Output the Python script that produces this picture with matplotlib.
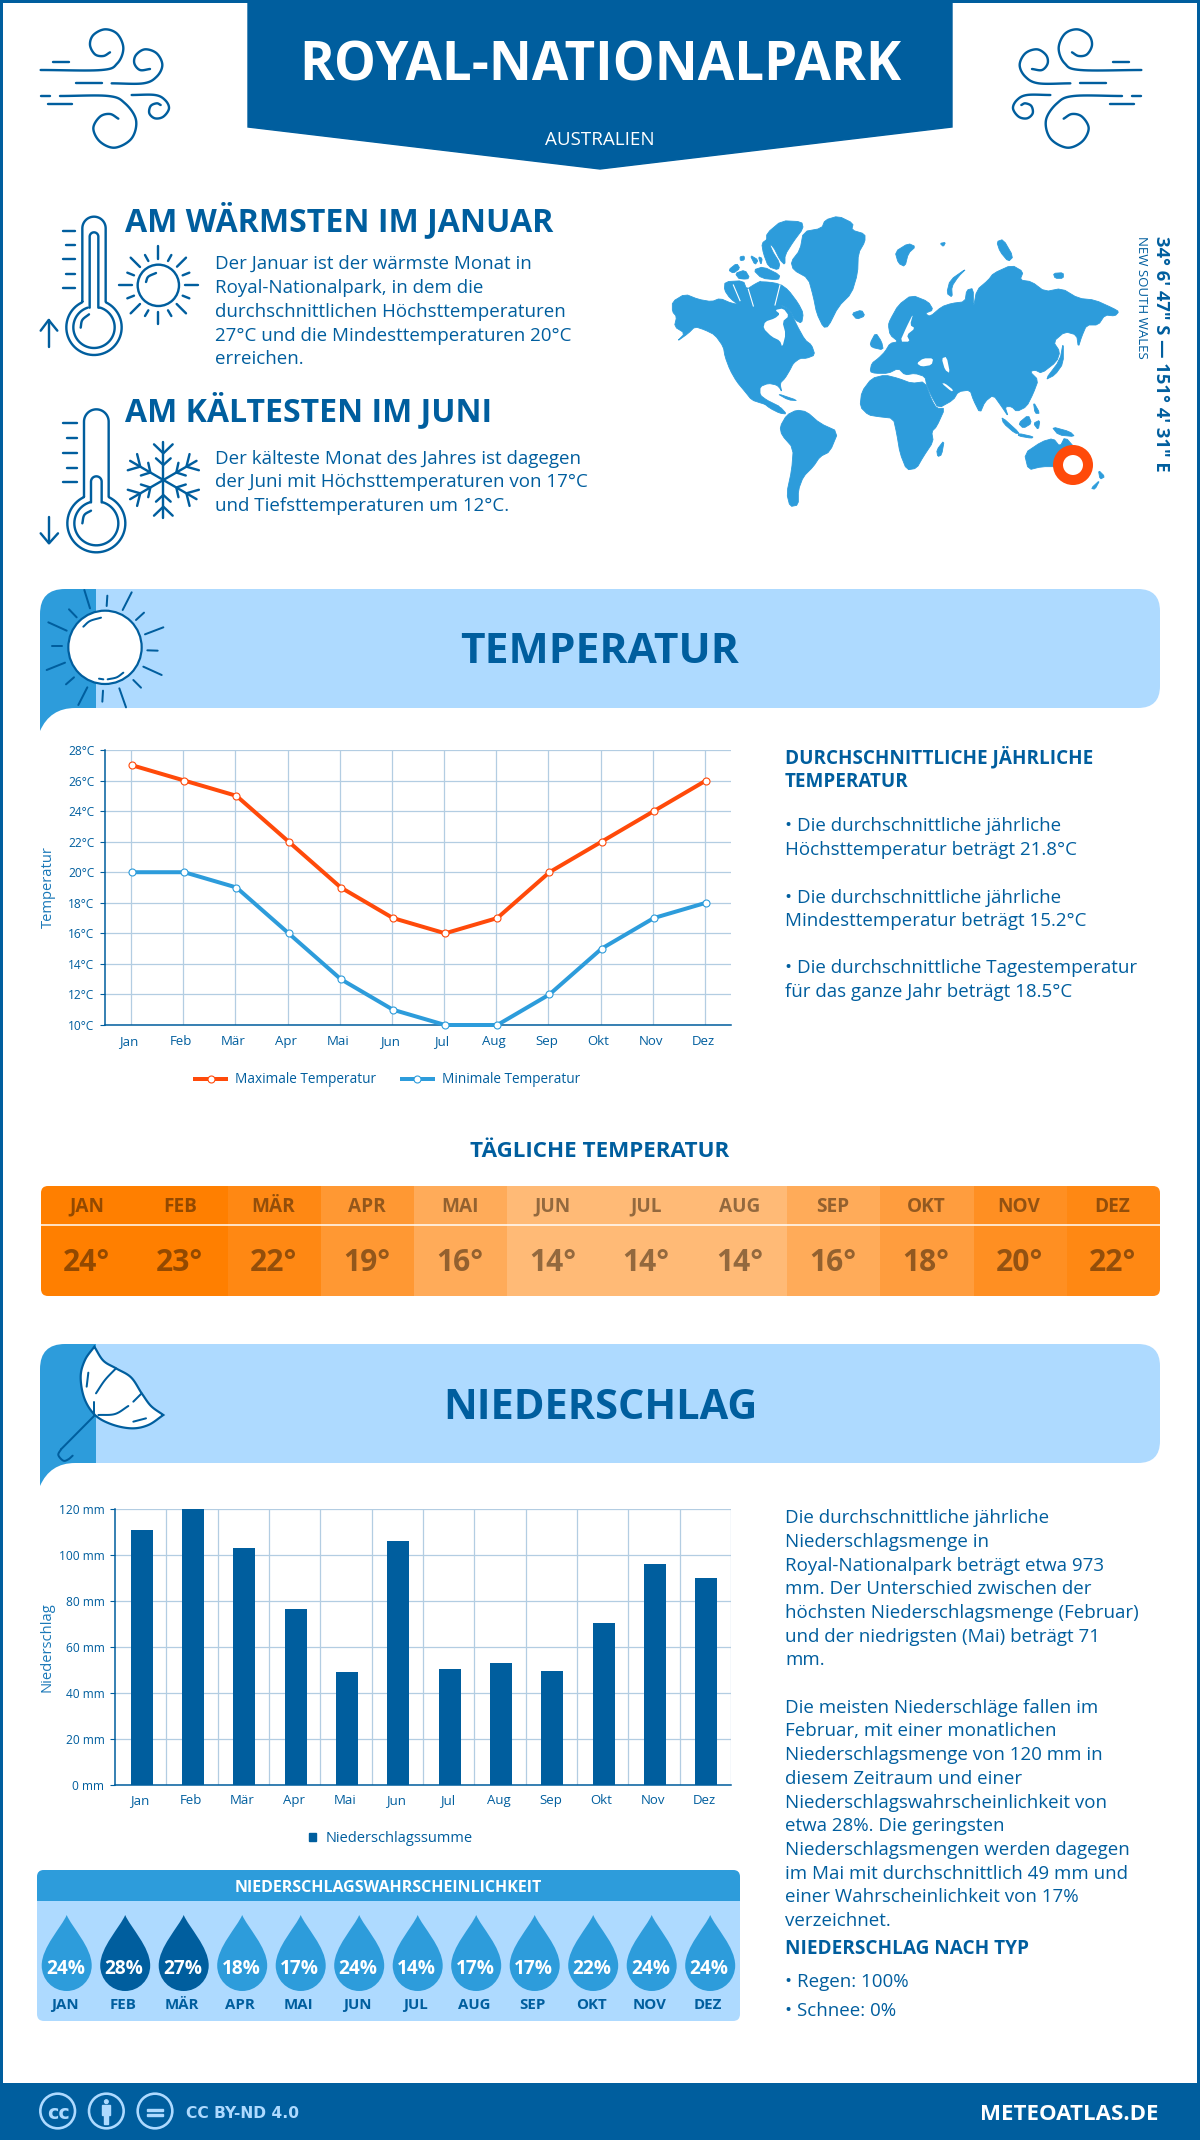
import numpy as np
import matplotlib
matplotlib.use("Agg")
import matplotlib.pyplot as plt
from matplotlib.path import Path
from matplotlib.patches import PathPatch, Rectangle, Circle, FancyBboxPatch, Patch
from matplotlib.transforms import ScaledTranslation

# ---------- data ----------
months = ["Jan", "Feb", "Mär", "Apr", "Mai", "Jun", "Jul", "Aug", "Sep", "Okt", "Nov", "Dez"]
months_upper = ["JAN", "FEB", "MÄR", "APR", "MAI", "JUN", "JUL", "AUG", "SEP", "OKT", "NOV", "DEZ"]
temp_max = [27, 26, 25, 22, 19, 17, 16, 17, 20, 22, 24, 26]
temp_min = [20, 20, 19, 16, 13, 11, 10, 10, 12, 15, 17, 18]
temp_ticks = [10, 12, 14, 16, 18, 20, 22, 24, 26, 28]
daily_temp = [24, 23, 22, 19, 16, 14, 14, 14, 16, 18, 20, 22]
precip = [111, 120, 103, 76.5, 49, 106, 50.5, 53, 49.5, 70.5, 96, 90]
precip_ticks = [0, 20, 40, 60, 80, 100, 120]
precip_prob = [24, 28, 27, 18, 17, 24, 14, 17, 17, 22, 24, 24]

text_warm = ["Der Januar ist der wärmste Monat in", "Royal-Nationalpark, in dem die",
             "durchschnittlichen Höchsttemperaturen", "27°C und die Mindesttemperaturen 20°C", "erreichen."]
text_cold = ["Der kälteste Monat des Jahres ist dagegen", "der Juni mit Höchsttemperaturen von 17°C",
             "und Tiefsttemperaturen um 12°C."]
text_temp = ["• Die durchschnittliche jährliche", "Höchsttemperatur beträgt 21.8°C", None,
             "• Die durchschnittliche jährliche", "Mindesttemperatur beträgt 15.2°C", None,
             "• Die durchschnittliche Tagestemperatur", "für das ganze Jahr beträgt 18.5°C"]
text_prec_1 = ["Die durchschnittliche jährliche", "Niederschlagsmenge in", "Royal-Nationalpark beträgt etwa 973",
               "mm. Der Unterschied zwischen der", "höchsten Niederschlagsmenge (Februar)",
               "und der niedrigsten (Mai) beträgt 71", "mm."]
text_prec_2 = ["Die meisten Niederschläge fallen im", "Februar, mit einer monatlichen",
               "Niederschlagsmenge von 120 mm in", "diesem Zeitraum und einer",
               "Niederschlagswahrscheinlichkeit von", "etwa 28%. Die geringsten",
               "Niederschlagsmengen werden dagegen", "im Mai mit durchschnittlich 49 mm und",
               "einer Wahrscheinlichkeit von 17%", "verzeichnet."]

# ---------- style ----------
BLUE = "#005E9E"
MID = "#2D9CDB"
LIGHT = "#AEDAFF"
ORANGE = "#FF4A0A"
GRID = "#B3CDE2"
AXLAB = "#1A78B8"
FONT = "Open Sans"
BODY = 18.8
W, H = 1200, 2140
daily_colors = ["#FF7F00", "#FF7F00", "#FF8813", "#FF9833", "#FFAB59", "#FFBA76",
                "#FFBA76", "#FFBA76", "#FFAB59", "#FF9D3E", "#FF8F22", "#FF8813"]

fig = plt.figure(figsize=(W / 100, H / 100), dpi=100, facecolor="white")
ov = fig.add_axes([0, 0, 1, 1], zorder=0)
ov.set_xlim(0, W)
ov.set_ylim(H, 0)
ov.axis("off")
renderer = fig.canvas.get_renderer()


def T(x, y, s, px, color=BLUE, weight="normal", ha="left", w=None, rot=0, alpha=None, family=FONT, z=6):
    """Text whose y is the centre of the capitals, in pixels."""
    yy = y + 0.357 * px if rot == 0 else y
    t = ov.text(x, yy, s, fontsize=px * 0.72, color=color, fontweight=weight, ha=ha, va="baseline",
                family=family, rotation=rot, rotation_mode="anchor", alpha=alpha, zorder=z)
    if w:
        e = t.get_window_extent(renderer)
        length = e.height if rot else e.width
        k = w / length
        t.set_fontsize(t.get_fontsize() * k)
        if rot == 0:
            t.set_y(y + 0.357 * px * k)
    return t


def smooth(pts, n=12):
    p = np.array(pts, float)
    p = np.vstack([2 * p[0] - p[1], p, 2 * p[-1] - p[-2]])
    out = []
    for i in range(1, len(p) - 2):
        for u in np.linspace(0, 1, n, endpoint=False):
            out.append(0.5 * ((2 * p[i]) + (-p[i - 1] + p[i + 1]) * u +
                              (2 * p[i - 1] - 5 * p[i] + 4 * p[i + 1] - p[i + 2]) * u ** 2 +
                              (-p[i - 1] + 3 * p[i] - 3 * p[i + 1] + p[i + 2]) * u ** 3))
    out.append(p[-2])
    return np.array(out)


def icon_line(pts, ox, oy, k=1 / 3, mirror=None, color=BLUE, lw=2.4, z=5, curve=False):
    p = smooth(pts) if curve else np.array(pts, float)
    x = ox + p[:, 0] * k
    y = oy + p[:, 1] * k
    if mirror is not None:
        x = mirror - x
    ov.plot(x, y, color=color, lw=lw * 0.72, solid_capstyle="round", solid_joinstyle="round", zorder=z)


def icon_circle(cx, cy, r, ox, oy, k=1 / 3, color=BLUE, lw=2.4, fc="none", z=5):
    ov.add_patch(Circle((ox + cx * k, oy + cy * k), r * k, fc=fc, ec=color, lw=lw * 0.72, zorder=z))


def arc(cx, cy, r, a0, a1, n=30):
    a = np.radians(np.linspace(a0, a1, n))
    return np.column_stack([cx + r * np.cos(a), cy - r * np.sin(a)])


# ---------- frame and header ----------
ov.add_patch(Rectangle((0, 0), W, H, fc="none", ec=BLUE, lw=6 * 0.72, zorder=1))
ov.add_patch(Rectangle((0, 2083), W, 57, fc=BLUE, ec="none", zorder=1))
ov.fill([248, 952, 952, 600, 248], [0, 0, 127, 169, 127], color=BLUE, zorder=2)
T(600, 62, "ROYAL-NATIONALPARK", 51, color="white", weight="bold", ha="center", w=603)
T(600, 138, "AUSTRALIEN", 18, color="white", ha="center", w=109)

wind_curves = [
    [(32, 150), (215, 150), (262, 130), (280, 85), (262, 42), (225, 28), (190, 45), (180, 75), (195, 103), (220, 108), (240, 97)],
    [(245, 190), (340, 190), (380, 170), (397, 135), (380, 100), (345, 88), (318, 105), (313, 130), (330, 150), (360, 147)],
    [(90, 228), (235, 228), (285, 250), (318, 300), (305, 355), (255, 383), (210, 365), (190, 325), (210, 290), (240, 282), (265, 296)],
    [(305, 225), (375, 225), (405, 240), (417, 265), (400, 290), (375, 295), (358, 280), (362, 258), (380, 250), (392, 255)],
]
wind_dashes = [[(68, 125), (118, 125)], [(138, 190), (215, 190)], [(32, 228), (60, 228)], [(55, 252), (125, 252)]]
for m in (None, 1182):
    for c in wind_curves:
        icon_line(c, 30, 20, mirror=m, curve=True)
    for d in wind_dashes:
        icon_line(d, 30, 20, mirror=m)

# ---------- warm / cold ----------
T(125, 220, "AM WÄRMSTEN IM JANUAR", 31, weight="bold", w=428)
for i, s in enumerate(text_warm):
    T(215, 262.5 + i * 23.8, s, BODY)
T(125, 410, "AM KÄLTESTEN IM JUNI", 31, weight="bold", w=366)
for i, s in enumerate(text_cold):
    T(215, 457 + i * 23.6, s, BODY)


def thermo(ox, oy, cx, cap_y, cap_r, neck_y, inner_top, inner_r, bulb_y, bulb_r, bulb_in, hl, ticks, arrow):
    outer = np.vstack([[(cx - cap_r, neck_y)], arc(cx, cap_y, cap_r, 180, 0), [(cx + cap_r, neck_y)],
                       arc(cx, bulb_y, bulb_r, 64, -244, 60), [(cx - cap_r, neck_y)]])
    icon_line(outer, ox, oy)
    inner = np.vstack([[(cx - inner_r, bulb_y - bulb_in * 0.95)], [(cx - inner_r, inner_top)],
                       arc(cx, inner_top, inner_r, 180, 0), [(cx + inner_r, bulb_y - bulb_in * 0.95)],
                       arc(cx, bulb_y, bulb_in, 72, -252, 60)])
    icon_line(inner, ox, oy)
    icon_line(hl, ox, oy, curve=True)
    for tk in ticks:
        icon_line(tk, ox, oy)
    for a in arrow:
        icon_line(a, ox, oy)


thermo(30, 205, 192, 70, 35, 290, 95, 13, 367, 83, 62, [(152, 368), (157, 345), (177, 328)],
       [[(98, 78), (135, 78)], [(108, 121), (135, 121)], [(98, 163), (135, 163)], [(108, 206), (135, 206)], [(98, 248), (135, 248)]],
       [[(56, 425), (56, 345)], [(32, 377), (56, 345), (82, 377)]])
thermo(30, 205, 199, 650, 37, 875, 830, 16, 955, 87, 66, [(157, 955), (163, 930), (183, 917)],
       [[(100, 655), (140, 655)], [(110, 699), (140, 699)], [(100, 743), (140, 743)], [(110, 788), (140, 788)], [(100, 832), (140, 832)]],
       [[(57, 935), (57, 1015)], [(32, 985), (57, 1015), (84, 985)]])

icon_circle(385, 241, 62, 30, 205)
sun_rays = [[(385, 123), (385, 163)], [(385, 320), (385, 358)], [(267, 241), (305, 241)], [(465, 241), (503, 241)],
            [(441, 185), (468, 158)], [(330, 186), (302, 158)], [(440, 297), (468, 325)], [(330, 297), (302, 325)],
            [(345, 150), (355, 168)], [(424, 150), (414, 168)], [(292, 203), (312, 211)], [(478, 203), (458, 211)],
            [(292, 280), (312, 272)], [(478, 280), (458, 272)], [(355, 316), (345, 333)], [(414, 316), (424, 333)]]
for r in sun_rays:
    icon_line(r, 30, 205)
icon_line([(348, 231), (355, 215), (378, 204)], 30, 205, curve=True)

for deg in range(30, 360, 60):
    a = np.radians(deg)
    u = np.array([np.cos(a), -np.sin(a)])
    v = np.array([-u[1], u[0]])
    c = np.array([400, 825])
    icon_line([c, c + u * 115], 30, 205)
    icon_line([c + u * 107 + v * 28, c + u * 80, c + u * 107 - v * 28], 30, 205)
    icon_line([c + u * 65 + v * 22, c + u * 45, c + u * 65 - v * 22], 30, 205)

# ---------- world map (decorative) ----------
land = [
    # North America
    [(22,275),(60,252),(100,268),(140,275),(165,265),(200,280),(235,285),(270,285),(310,285),(345,285),(375,300),(395,345),(420,390),(440,405),(450,435),(425,445),(405,445),(385,460),(375,480),(360,505),(345,520),(350,545),(345,535),(335,525),(310,520),(285,530),(285,555),(305,570),(325,580),(345,590),(345,605),(325,590),(290,580),(260,570),(240,545),(215,515),(195,480),(180,440),(175,410),(150,375),(120,360),(90,350),(70,370),(35,395),(60,370),(28,350),(35,320),(22,305)],
    [(290,575),(345,590),(365,612),(345,610),(315,595)],
    # Arctic archipelago
    [(305,70),(350,32),(410,35),(415,55),(385,95),(360,135),(360,165),(345,150),(325,110),(305,95)],
    [(290,100),(310,85),(320,120),(345,160),(340,180),(310,170),(295,130)],
    [(190,180),(215,160),(225,175),(205,190)],
    [(210,190),(240,180),(255,205),(225,210)],
    [(225,140),(238,138),(238,150),(226,152)],
    [(255,135),(280,150),(270,165)],
    [(280,140),(292,145),(288,165)],
    [(265,180),(295,170),(345,195),(340,210),(290,205)],
    [(180,215),(235,212),(245,238),(270,222),(290,212),(345,222),(370,240),(400,280),(415,310),(410,340),(390,330),(375,300),(350,285),(325,290),(300,295),(270,290),(230,292),(195,265),(178,240)],
    # Greenland, Iceland, Svalbard etc
    [(415,65),(470,55),(480,30),(520,18),(565,40),(560,60),(600,72),(600,95),(580,130),(578,190),(560,250),(520,290),(490,350),(475,352),(455,310),(445,260),(430,205),(385,180),(378,155),(405,120)],
    [(560,310),(590,300),(600,318),(575,328)],
    [(690,125),(730,100),(752,110),(730,130),(720,170),(700,160)],
    [(825,100),(842,97),(835,110)],
    [(845,250),(855,210),(905,175),(880,200),(860,230),(862,262)],
    [(995,95),(1015,88),(1045,140),(1030,155),(1005,125)],
    [(1165,190),(1195,188),(1195,205),(1170,205)],
    # Eurasia
    [(675,330),(700,285),(740,255),(790,275),(805,300),(780,310),(795,320),(830,290),(860,280),(900,275),(905,240),(925,235),(925,295),(935,240),(970,210),(985,190),(1040,165),(1075,185),(1065,210),(1100,215),(1140,245),(1190,235),(1240,265),(1290,270),(1345,295),(1362,305),(1350,318),(1320,315),(1300,345),(1265,345),(1250,380),(1240,412),(1235,375),(1200,365),(1165,395),(1185,425),(1175,455),(1130,490),(1110,480),(1095,485),(1120,510),(1105,550),(1085,590),(1055,605),(1040,590),(1020,590),(1030,620),(1010,590),(985,555),(960,575),(945,610),(925,570),(915,540),(880,545),(865,570),(820,595),(800,560),(785,525),(780,500),(750,490),(720,495),(700,475),(670,490),(630,490),(615,485),(620,460),(640,445),(660,425),(675,400),(700,395),(675,375),(670,345)],
    [(615,400),(632,368),(650,395),(655,420),(620,412)],
    # Africa, Madagascar, South America
    [(590,545),(620,505),(660,495),(700,505),(740,520),(780,515),(800,570),(815,595),(840,595),(815,650),(800,665),(805,695),(775,740),(755,775),(725,780),(705,730),(695,670),(685,625),(640,620),(610,615),(585,590)],
    [(815,720),(838,690),(830,735),(818,740)],
    [(345,650),(365,615),(395,600),(425,605),(465,640),(520,665),(495,725),(465,740),(445,770),(415,800),(400,840),(400,885),(375,890),(365,850),(380,780),(385,715),(350,675)],
    [(335,550),(400,572),(370,570)],
    # South-east Asia, Oceania
    [(1010,620),(1065,670),(1050,670),(1015,640)],
    [(1060,670),(1105,680),(1100,685),(1060,678)],
    [(1060,640),(1090,615),(1100,640),(1075,655)],
    [(1105,640),(1125,630),(1120,660)],
    [(1160,650),(1215,665),(1230,680),(1180,675)],
    [(1105,575),(1125,610),(1110,610)],
    [(1140,510),(1185,450),(1195,395),(1195,460),(1170,495)],
    [(1078,730),(1130,695),(1165,685),(1185,710),(1200,680),(1235,720),(1270,750),(1270,790),(1240,815),(1180,770),(1130,770),(1090,780)],
    [(1300,780),(1320,800),(1305,808)],
    [(1278,835),(1305,810),(1290,838)],
]
water = [
    # Hudson Bay and Foxe Basin
    [(300,335),(330,325),(345,312),(330,300),(355,295),(372,318),(352,335),(362,372),(352,412),(345,392),(320,380),(295,355)],
    # inner seas
    [(755,460),(775,445),(805,445),(800,465),(770,470)],
    [(830,445),(845,440),(855,490),(840,480)],
    [(705,395),(725,350),(745,310),(735,345),(750,355),(725,375),(735,395)],
    [(830,520),(860,545),(865,540),(840,520)],
]
channels = [[(205,225),(225,272)], [(250,238),(265,288)], [(345,225),(330,285)],
            [(195,205),(250,212)], [(290,212),(345,215)]]


def chaikin(poly):
    p = np.array(poly, float)
    q = np.roll(p, -1, axis=0)
    return np.vstack(np.column_stack([0.8 * p + 0.2 * q, 0.2 * p + 0.8 * q]).reshape(-1, 2))


for poly in land:
    p = chaikin(poly)
    ov.fill(665 + p[:, 0] / 3, 210 + p[:, 1] / 3, color=MID, lw=0.6, zorder=3)
for poly in water:
    p = chaikin(poly)
    ov.fill(665 + p[:, 0] / 3, 210 + p[:, 1] / 3, color="white", lw=0, zorder=3.5)
for ch in channels:
    p = np.array(ch, float)
    ov.plot(665 + p[:, 0] / 3, 210 + p[:, 1] / 3, color="white", lw=0.8, zorder=3.5)
ov.add_patch(Circle((1073, 465), 15, fc="white", ec=ORANGE, lw=10 * 0.72, zorder=4))

T(1156, 236, "34° 6' 47\" S — 151° 4' 31\" E", 20, weight="bold", rot=-90, w=236)
T(1138, 236, "NEW SOUTH WALES", 13, rot=-90, w=123)


# ---------- section banners ----------
def banner(top, bot, tail):
    M, L, Q = Path.MOVETO, Path.LINETO, Path.CURVE3
    v = [(96, top), (1138, top), (1160, top), (1160, top + 22), (1160, bot - 22), (1160, bot), (1138, bot), (96, bot), (96, top)]
    c = [M, L, Q, Q, L, Q, Q, L, L]
    ov.add_patch(PathPatch(Path(v, c), fc=LIGHT, ec="none", zorder=2))
    v = [(40, tail), (40, top + 25), (40, top), (65, top), (96, top), (96, bot), (75, bot), (50, bot), (40, tail)]
    c = [M, L, Q, Q, L, L, L, Q, Q]
    ov.add_patch(PathPatch(Path(v, c), fc=MID, ec="none", zorder=2))


banner(589, 708, 731)
banner(1344, 1463, 1486)
T(600, 648, "TEMPERATUR", 43, weight="bold", ha="center", w=278)
T(600, 1404, "NIEDERSCHLAG", 43, weight="bold", ha="center", w=315)

# banner sun
icon_circle(210, 187, 110, 35, 585, fc="white", lw=2.2)
for r in [[(148,15),(165,70)],[(102,73),(125,97)],[(40,112),(95,137)],[(50,184),(82,184)],[(35,255),(90,233)],
          [(93,298),(117,277)],[(130,360),(157,307)],[(204,317),(202,350)],[(253,310),(273,367)],[(295,285),(318,308)],
          [(325,245),(380,270)],[(337,196),(368,197)],[(330,148),(385,127)],[(303,105),(327,83)],[(263,75),(290,22)],[(217,32),(215,63)],
          [(192,281),(205,283)]]:
    icon_line(r, 35, 585, lw=2)
icon_line([(145,125),(165,108),(198,98)], 35, 585, curve=True, lw=2)
icon_line([(218,283),(245,277),(265,263)], 35, 585, curve=True, lw=2)

# banner umbrella
top_edge = np.vstack([smooth([(178,20),(205,62),(243,85)]), smooth([(243,85),(288,112),(320,160)])[1:], smooth([(320,160),(348,198),(385,225)])[1:]])
low_edge = smooth([(385,225),(340,255),(290,265),(230,253),(180,225),(148,175),(137,110),(150,60),(178,20)])
umb = np.vstack([top_edge, low_edge])
ov.fill(35 + umb[:, 0] / 3, 1340 + umb[:, 1] / 3, fc="white", ec=BLUE, lw=2.2 * 0.72, zorder=5)
icon_line([(180,225),(78,328)], 35, 1340, lw=2, z=4)
icon_line([(78,328),(70,345),(85,362),(100,358),(113,347)], 35, 1340, lw=2, z=4, curve=True)
for seg, cv in [([(243,85),(210,120),(183,160)], True), ([(178,185),(178,225)], False), ([(320,160),(295,185)], False),
                ([(280,198),(240,222),(190,225)], True), ([(160,98),(155,140)], False), ([(295,245),(333,235)], False)]:
    icon_line(seg, 35, 1340, lw=2, curve=cv, z=6)


# ---------- charts ----------
def px_axes(l, t, r, b):
    a = fig.add_axes([l / W, 1 - b / H, (r - l) / W, (b - t) / H], zorder=3)
    a.patch.set_alpha(0)
    return a


def style_axes(a):
    for s in ("top", "right"):
        a.spines[s].set_visible(False)
    for s in ("left", "bottom"):
        a.spines[s].set_color(BLUE)
        a.spines[s].set_linewidth(1.1)
    a.tick_params(axis="y", length=5 * 0.72, width=0.8, color=BLUE, labelcolor=BLUE, labelsize=12 * 0.72, pad=4)
    a.tick_params(axis="x", which="major", length=0, labelcolor=BLUE, labelsize=13.3 * 0.72, pad=7)
    for lab in a.get_yticklabels() + a.get_xticklabels():
        lab.set_family(FONT)


# temperature
ax = px_axes(105, 750, 731, 1025)
x = np.arange(12)
ax.set_xlim(-0.5, 11.5)
ax.set_ylim(10, 28)
ax.set_yticks(temp_ticks)
ax.set_yticklabels([f"{v}°C" for v in temp_ticks])
ax.set_xticks(x)
ax.set_xticklabels(months)
ax.grid(True, color=GRID, lw=0.9)
ax.set_axisbelow(True)
style_axes(ax)
for lab in ax.get_xticklabels():
    lab.set_transform(lab.get_transform() + ScaledTranslation(-2 / 100, 0, fig.dpi_scale_trans))
ln1, = ax.plot(x + 0.02, temp_max, color=ORANGE, lw=4 * 0.72, marker="o", ms=7 * 0.72, mfc="white", mec=ORANGE, mew=0.8,
               clip_on=False, zorder=4, label="Maximale Temperatur")
ln2, = ax.plot(x + 0.02, temp_min, color=MID, lw=4 * 0.72, marker="o", ms=7 * 0.72, mfc="white", mec=MID, mew=0.8,
               clip_on=False, zorder=4, label="Minimale Temperatur")
ax.set_ylabel("Temperatur", color=AXLAB, fontsize=14.8 * 0.72, family=FONT)
ax.yaxis.set_label_coords((56 - 105) / 626, 0.5)
ax.legend(handles=[ln1, ln2], loc="center", bbox_to_anchor=(387.5 / W, 1 - 1080 / H), bbox_transform=fig.transFigure,
          ncol=2, frameon=False, labelcolor=BLUE, prop={"family": FONT, "size": 13.6 * 0.72}, numpoints=1,
          handlelength=2.28, handletextpad=0.65, columnspacing=1.9, borderpad=0)

# precipitation
ax2 = px_axes(115, 1509, 731, 1784.5)
ax2.set_xlim(-0.5, 11.5)
ax2.set_ylim(0, 120)
ax2.set_yticks(precip_ticks)
ax2.set_yticklabels([f"{v} mm" for v in precip_ticks])
ax2.set_xticks(x)
ax2.set_xticklabels(months)
ax2.set_xticks(np.arange(0.5, 11.6, 1), minor=True)
ax2.tick_params(axis="x", which="minor", length=0)
ax2.grid(True, axis="y", color=GRID, lw=0.9)
ax2.grid(True, axis="x", which="minor", color=GRID, lw=0.9)
ax2.set_axisbelow(True)
style_axes(ax2)
for lab in ax2.get_xticklabels():
    lab.set_transform(lab.get_transform() + ScaledTranslation(-1 / 100, 0, fig.dpi_scale_trans))
ax2.bar(x + 0.02, precip, width=0.43, color=BLUE, zorder=3)
ax2.set_ylabel("Niederschlag", color=AXLAB, fontsize=14.8 * 0.72, family=FONT)
ax2.yaxis.set_label_coords((54 - 115) / 616, 0.5)
ax2.legend(handles=[Patch(color=BLUE, label="Niederschlagssumme")], loc="center",
           bbox_to_anchor=(391 / W, 1 - 1839 / H), bbox_transform=fig.transFigure, frameon=False, labelcolor=BLUE,
           prop={"family": FONT, "size": 14.6 * 0.72}, handlelength=0.5, handleheight=0.5, handletextpad=0.65, borderpad=0)

# right column, temperature
T(785, 757, "DURCHSCHNITTLICHE JÄHRLICHE", 18, weight="bold", w=306)
T(785, 780, "TEMPERATUR", 18, weight="bold", w=124)
temp_y = [824, 848, None, 896, 919, None, 966, 990]
for s, yy in zip(text_temp, temp_y):
    if s:
        T(785, yy, s, BODY)

# daily table
T(600, 1149, "TÄGLICHE TEMPERATUR", 21, weight="bold", ha="center", w=259)
clip = FancyBboxPatch((41, 1186), 1119, 110, boxstyle="round,pad=0,rounding_size=7", fc="none", ec="none",
                      transform=ov.transData)
ov.add_patch(clip)
cw = 1119 / 12
for i, (m, v) in enumerate(zip(months_upper, daily_temp)):
    r = Rectangle((41 + i * cw, 1186), cw + 0.5, 110, fc=daily_colors[i], ec="none", zorder=2)
    ov.add_patch(r)
    r.set_clip_path(clip)
    cx = 41 + (i + 0.5) * cw - 1
    T(cx, 1205, m, 19, color="#1A0E00", weight="bold", ha="center", alpha=0.47)
    T(cx, 1260, f"{v}°", 30, color="#1A0E00", weight="bold", ha="center", alpha=0.47)
ov.plot([41, 1160], [1225, 1225], color="white", lw=1.5 * 0.72, zorder=3)

# probability panel
clip2 = FancyBboxPatch((37, 1870), 703, 151, boxstyle="round,pad=0,rounding_size=7", fc=LIGHT, ec="none", zorder=2)
ov.add_patch(clip2)
hdr = Rectangle((37, 1870), 703, 31, fc=MID, ec="none", zorder=2.5)
ov.add_patch(hdr)
hdr.set_clip_path(clip2)
T(388.5, 1886, "NIEDERSCHLAGSWAHRSCHEINLICHKEIT", 17, color="white", weight="bold", ha="center", w=309)
for i, (m, v) in enumerate(zip(months_upper, precip_prob)):
    cx = 66.7 + i * 58.5
    verts = [(cx, 1915), (cx + 5, 1927), (cx + 25, 1947), (cx + 25, 1965.5), (cx + 25, 1979.5), (cx + 14, 1991), (cx, 1991),
             (cx - 14, 1991), (cx - 25, 1979.5), (cx - 25, 1965.5), (cx - 25, 1947), (cx - 5, 1927), (cx, 1915)]
    codes = [Path.MOVETO] + [Path.CURVE4] * 12
    col = BLUE if v >= 27 else MID
    ov.add_patch(PathPatch(Path(verts, codes), fc=col, ec="none", zorder=3))
    T(cx - 1, 1967, f"{v}%", 19, color="white", weight="bold", ha="center")
    T(cx - 2, 2004, m, 15, weight="bold", ha="center")

# right column, precipitation
for i, s in enumerate(text_prec_1):
    T(785, 1516.5 + i * 23.7, s, BODY)
for i, s in enumerate(text_prec_2):
    T(785, 1706 + i * 23.7, s, BODY)
T(785, 1947, "NIEDERSCHLAG NACH TYP", 20, weight="bold", w=242)
T(785, 1980, "• Regen: 100%", BODY)
T(785, 2009, "• Schnee: 0%", BODY)

# footer
for cx_ in (83, 229, 375):
    icon_circle(cx_, 78, 52, 30, 2085, color=LIGHT, lw=2.6, z=3)
T(58, 2112, "cc", 19, color=LIGHT, weight="bold", ha="center", family="DejaVu Sans")
icon_circle(229, 50, 6, 30, 2085, color=LIGHT, lw=1, fc=LIGHT, z=3)
ov.fill([102, 110, 110, 108, 108, 104, 104, 102], [2105, 2105, 2115, 2115, 2124, 2124, 2115, 2115], color=LIGHT, zorder=3)
ov.fill([147, 163, 163, 147], [2108.5, 2108.5, 2110.5, 2110.5], color=LIGHT, zorder=3)
ov.fill([147, 163, 163, 147], [2113.5, 2113.5, 2115.5, 2115.5], color=LIGHT, zorder=3)
T(186, 2112, "CC BY-ND 4.0", 15, color=LIGHT, weight="bold", w=113, family="DejaVu Sans")
T(1158, 2112, "METEOATLAS.DE", 25, color="white", weight="bold", ha="right", w=178)

fig.savefig("out.png", dpi=100, facecolor="white")
